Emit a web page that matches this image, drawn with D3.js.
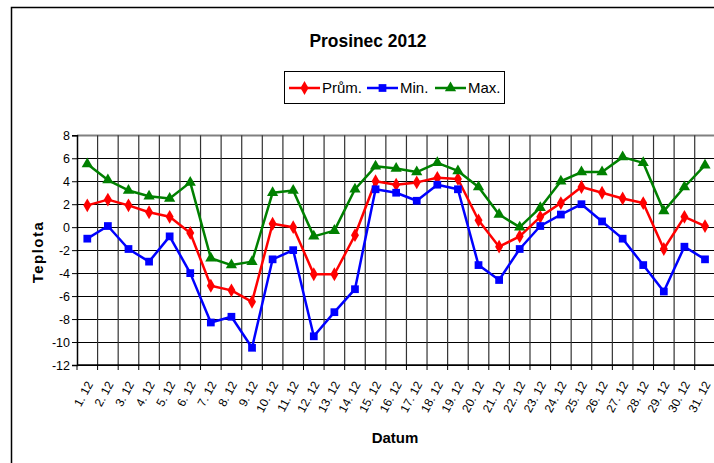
<!DOCTYPE html>
<html><head><meta charset="utf-8">
<script src="https://cdn.jsdelivr.net/npm/d3@7"></script>
<style>body{margin:0;background:#fff}svg{display:block;font-family:"Liberation Sans",Arial,sans-serif}</style>
</head><body>
<svg id="c" width="714" height="463"></svg>
<script>
const categories = ["1. 12","2. 12","3. 12","4. 12","5. 12","6. 12","7. 12","8. 12","9. 12","10. 12","11. 12","12. 12","13. 12","14. 12","15. 12","16. 12","17. 12","18. 12","19. 12","20. 12","21. 12","22. 12","23. 12","24. 12","25. 12","26. 12","27. 12","28. 12","29. 12","30. 12","31. 12"];
const prum = [1.9, 2.4, 1.9, 1.3, 0.9, -0.5, -5.1, -5.5, -6.5, 0.3, 0.0, -4.1, -4.1, -0.7, 4.0, 3.7, 3.9, 4.3, 4.2, 0.6, -1.7, -0.8, 0.9, 2.1, 3.5, 3.0, 2.5, 2.1, -1.9, 0.9, 0.1];
const minV = [-1.0, 0.1, -1.9, -3.0, -0.8, -4.0, -8.3, -7.8, -10.5, -2.8, -2.0, -9.5, -7.4, -5.4, 3.3, 3.0, 2.3, 3.7, 3.3, -3.3, -4.6, -1.9, 0.1, 1.1, 2.0, 0.5, -1.0, -3.3, -5.6, -1.7, -2.8];
const maxV = [5.5, 4.1, 3.2, 2.7, 2.5, 3.9, -2.7, -3.3, -3.0, 3.0, 3.2, -0.8, -0.3, 3.3, 5.3, 5.1, 4.8, 5.6, 4.9, 3.5, 1.1, 0.0, 1.7, 4.0, 4.8, 4.8, 6.1, 5.6, 1.4, 3.5, 5.4];
const yTicks = [8,6,4,2,0,-2,-4,-6,-8,-10,-12];
const seriesNames = ["Prům.","Min.","Max."];

const series = [
  {name: seriesNames[0], values: prum, color: "#FF0000", sym: d3.symbolDiamond, size: 55},
  {name: seriesNames[1], values: minV, color: "#0000FF", sym: d3.symbolSquare, size: 60},
  {name: seriesNames[2], values: maxV, color: "#008000", sym: d3.symbolTriangle, size: 55}
];

const svg = d3.select("#c");
const L = 77, R = 715.3, T = 135.3, B = 365;
const x = d3.scaleBand().domain(categories).range([L, R]);
const y = d3.scaleLinear().domain([-12, 8]).range([B, T]);

// outer border
svg.append("path").attr("d", `M11.5,470 V7.5 H720`).attr("fill","none").attr("stroke","#000").attr("stroke-width",1.5);

// title
svg.append("text").attr("x", 368).attr("y", 47).attr("text-anchor","middle")
  .attr("font-size", 19).attr("font-weight","bold").attr("textLength",117).attr("lengthAdjust","spacingAndGlyphs")
  .text("Prosinec 2012");

// gridlines
const g = svg.append("g");
g.selectAll("line.h").data(yTicks).join("line")
  .attr("x1", L).attr("x2", R).attr("y1", d => Math.round(y(d))+0.5).attr("y2", d => Math.round(y(d))+0.5)
  .attr("stroke", d => d === 8 ? "#808080" : "#000").attr("stroke-width", d => d===8 ? 2 : 1);
const bounds = categories.map(c => x(c)).concat([R]);
g.selectAll("line.v").data(bounds.slice(1)).join("line")
  .attr("x1", d => d).attr("x2", d => d).attr("y1", T).attr("y2", B)
  .attr("stroke", "#333").attr("stroke-width", 1.2);

// y axis
const yAxis = d3.axisLeft(y).tickValues(yTicks).tickSize(5).tickFormat(d => String(d).replace("−","-"));
const ya = svg.append("g").attr("transform", `translate(${L},0)`).call(yAxis);
ya.select(".domain").attr("stroke","#000").attr("stroke-width",1.5);
ya.selectAll(".tick line").attr("stroke","#000");
ya.selectAll(".tick text").attr("font-size",12.5).attr("font-family","Liberation Sans, Arial").attr("fill","#000").attr("x",-7);

// x axis
const xa = svg.append("g").attr("transform", `translate(0,${B})`);
xa.append("line").attr("x1", L).attr("x2", R).attr("y1", 0).attr("y2", 0).attr("stroke","#000").attr("stroke-width",1.5);
xa.selectAll("line.t").data(bounds).join("line")
  .attr("x1", d => d).attr("x2", d => d).attr("y1", 0).attr("y2", 5).attr("stroke","#000");
xa.selectAll("text").data(categories).join("text")
  .attr("transform", d => `translate(${x(d) + x.bandwidth()/2 + 6},${19}) rotate(-62)`)
  .attr("text-anchor","end").attr("font-size",12).attr("fill","#000")
  .text(d => d);

// axis titles
svg.append("text").attr("x", 395).attr("y", 443).attr("text-anchor","middle")
  .attr("font-size",15).attr("font-weight","bold").text("Datum");
svg.append("text").attr("transform","translate(43,252) rotate(-90)").attr("text-anchor","middle")
  .attr("font-size",15).attr("font-weight","bold").attr("letter-spacing",1.5).text("Teplota");

// series
const line = d3.line().x((d,i) => x(categories[i]) + x.bandwidth()/2).y(d => y(d));
series.forEach(s => {
  svg.append("path").datum(s.values).attr("d", line).attr("fill","none")
    .attr("stroke", s.color).attr("stroke-width", 2.5).attr("stroke-linejoin","round");
  svg.append("g").selectAll("path").data(s.values).join("path")
    .attr("transform", (d,i) => `translate(${x(categories[i]) + x.bandwidth()/2},${y(d)})`)
    .attr("d", d3.symbol().type(s.sym).size(s.size)).attr("fill", s.color);
});

// legend
const lg = svg.append("g");
lg.append("rect").attr("x",284.5).attr("y",71.5).attr("width",220).attr("height",32)
  .attr("fill","#fff").attr("stroke","#000").attr("stroke-width",1);
const legX = [289, 367, 435];
series.forEach((s,i) => {
  const x0 = legX[i];
  lg.append("line").attr("x1",x0).attr("x2",x0+31).attr("y1",88).attr("y2",88).attr("stroke",s.color).attr("stroke-width",2.5);
  lg.append("path").attr("transform",`translate(${x0+15.5},88)`).attr("d", d3.symbol().type(s.sym).size(s.size)).attr("fill",s.color);
  lg.append("text").attr("x", x0+33).attr("y", 93).attr("font-size",15).attr("fill","#000").text(s.name);
});
</script>
</body></html>
